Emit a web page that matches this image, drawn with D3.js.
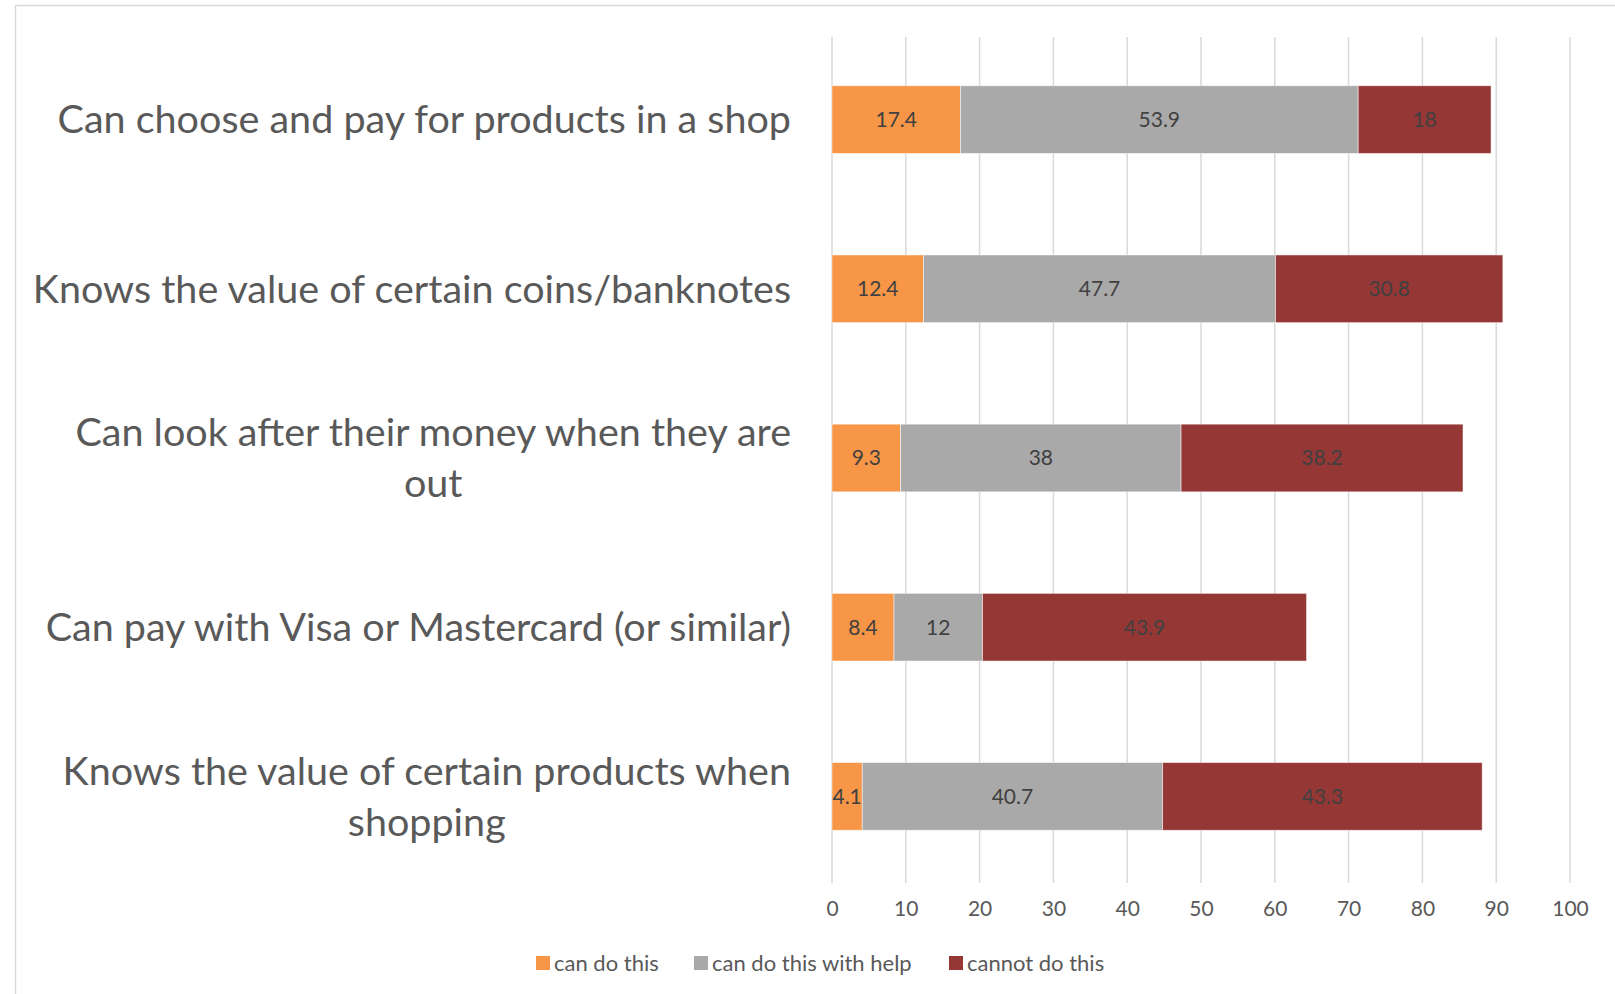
<!DOCTYPE html>
<html>
<head>
<meta charset="utf-8">
<script src="https://cdn.jsdelivr.net/npm/d3@7"></script>
<style>
  html, body { margin: 0; padding: 0; background: #fff; }
  svg { display: block; font-family: Lato, "Open Sans", sans-serif; }
</style>
</head>
<body>
<svg id="chart" width="1615" height="994"></svg>
<script>
// Skills with money: share of respondents (%) per ability level
const categories = [
  ["Can choose and pay for products in a shop"],
  ["Knows the value of certain coins/banknotes"],
  ["Can look after their money when they are", "out"],
  ["Can pay with Visa or Mastercard (or similar)"],
  ["Knows the value of certain products when", "shopping"]
];
const seriesNames = ["can do this", "can do this with help", "cannot do this"];
const canDo      = [17.4, 12.4, 9.3, 8.4, 4.1];
const withHelp   = [53.9, 47.7, 38, 12, 40.7];
const cannotDo   = [18, 30.8, 38.2, 43.9, 43.3];
const tickValues = [0, 10, 20, 30, 40, 50, 60, 70, 80, 90, 100];

const colors = ["#F79646", "#A9A9A9", "#953735"];
const textColor = "#595959";

const svg = d3.select("#chart");
const W = 1615, H = 994;

// Outer chart frame
svg.append("rect")
  .attr("x", 15.5).attr("y", 5.5)
  .attr("width", W + 20).attr("height", H + 20)
  .attr("fill", "#fff")
  .attr("stroke", "#d9d9d9").attr("stroke-width", 1.5);

const plot = { left: 832, right: 1570, top: 35, bottom: 881 };

const x = d3.scaleLinear().domain([0, 100]).range([plot.left, plot.right]);
const y = d3.scaleBand()
  .domain(d3.range(categories.length))
  .range([plot.top, plot.bottom])
  .paddingInner(0.6).paddingOuter(0.3);

// Vertical gridlines
svg.append("g")
  .selectAll("line")
  .data(tickValues)
  .join("line")
  .attr("x1", d => x(d)).attr("x2", d => x(d))
  .attr("y1", plot.top + 2).attr("y2", plot.bottom + 2)
  .attr("stroke", "#d9d9d9").attr("stroke-width", 1.5);

// Tick labels via axis
const axis = d3.axisBottom(x).tickValues(tickValues).tickSize(0).tickPadding(0);
const axG = svg.append("g")
  .attr("transform", `translate(0,${plot.bottom + 28})`)
  .call(axis);
axG.select(".domain").remove();
axG.selectAll("text")
  .attr("fill", textColor)
  .attr("font-size", 21)
  .attr("font-family", "Lato, 'Open Sans', sans-serif")
  .attr("dy", "0.35em");

// Stack the three series
const rows = categories.map((c, i) => ({ i, a: canDo[i], b: withHelp[i], c: cannotDo[i] }));
const stack = d3.stack().keys(["a", "b", "c"]);
const stacked = stack(rows);

const layers = svg.append("g")
  .selectAll("g")
  .data(stacked)
  .join("g")
  .attr("fill", (d, k) => colors[k]);

layers.selectAll("rect")
  .data(d => d)
  .join("rect")
  .attr("x", d => x(d[0]))
  .attr("y", d => y(d.data.i))
  .attr("width", d => x(d[1]) - x(d[0]))
  .attr("height", y.bandwidth())
  .attr("stroke", "rgba(255,255,255,0.6)")
  .attr("stroke-width", 0.8);

// Value labels centred in each segment
layers.selectAll("text")
  .data(d => d)
  .join("text")
  .attr("x", d => (x(d[0]) + x(d[1])) / 2)
  .attr("y", d => y(d.data.i) + y.bandwidth() / 2)
  .attr("dy", "0.35em")
  .attr("text-anchor", "middle")
  .attr("font-size", 21)
  .attr("fill", "#404040")
  .text(d => d3.format("")(+(d[1] - d[0]).toFixed(1)));

// Category labels: lines centred on each other, block right-aligned
const labelRight = 791;
const lineH = 51;
const catG = svg.append("g");
categories.forEach((lines, i) => {
  const g = catG.append("g");
  const cy = y(i) + y.bandwidth() / 2;
  const texts = lines.map((ln, k) => g.append("text")
    .attr("font-size", 39.5)
    .attr("fill", textColor)
    .attr("text-anchor", "middle")
    .attr("dy", "0.35em")
    .attr("y", cy + (k - (lines.length - 1) / 2) * lineH)
    .text(ln));
  const maxW = d3.max(texts, t => t.node().getComputedTextLength());
  texts.forEach(t => t.attr("x", labelRight - maxW / 2));
});

// Legend
const legendItems = [
  { name: seriesNames[0], color: colors[0], x: 536 },
  { name: seriesNames[1], color: colors[1], x: 694 },
  { name: seriesNames[2], color: colors[2], x: 949 }
];
const lg = svg.append("g").attr("transform", "translate(0,963)");
legendItems.forEach(it => {
  lg.append("rect")
    .attr("x", it.x).attr("y", -7)
    .attr("width", 14).attr("height", 14)
    .attr("fill", it.color);
  lg.append("text")
    .attr("x", it.x + 18).attr("y", 0)
    .attr("dy", "0.35em")
    .attr("font-size", 22)
    .attr("fill", textColor)
    .text(it.name);
});
</script>
</body>
</html>
